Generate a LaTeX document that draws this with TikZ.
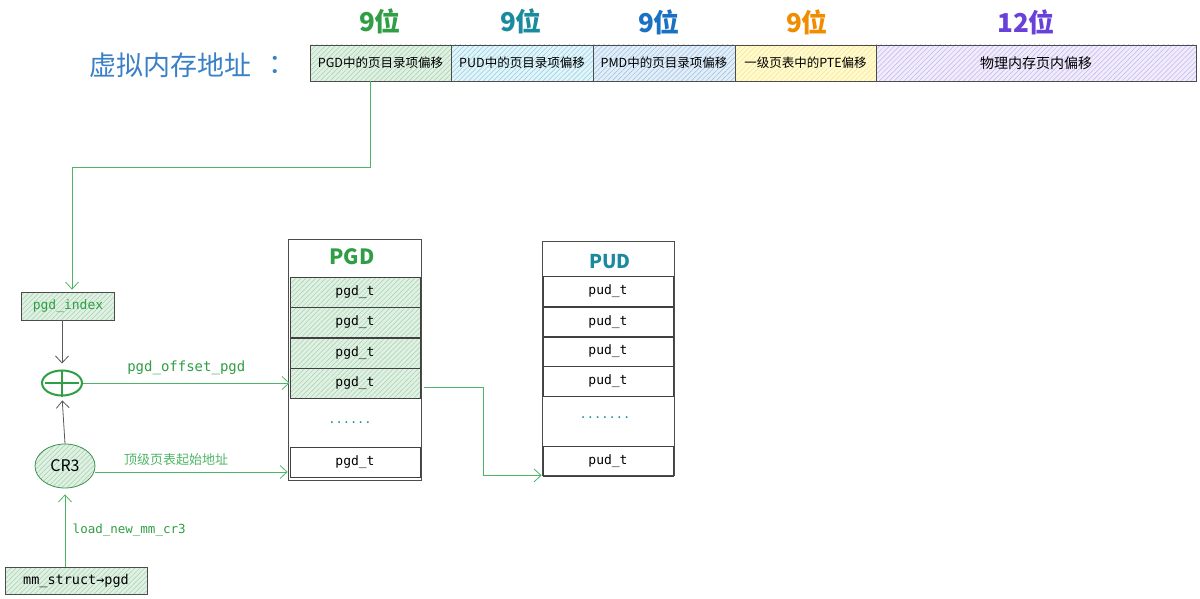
\documentclass[tikz,border=0pt]{standalone}
\usepackage{fontspec}
\setmainfont{Noto Sans CJK SC}
\setmonofont{DejaVu Sans Mono}
\usetikzlibrary{arrows.meta,patterns.meta,shapes.geometric}

\definecolor{grn}{HTML}{2F9E44}
\definecolor{lgrn}{HTML}{4DB565}
\definecolor{teal}{HTML}{1A8A9E}
\definecolor{blu}{HTML}{1971C2}
\definecolor{org}{HTML}{F08C00}
\definecolor{pur}{HTML}{6741D9}
\definecolor{vblue}{HTML}{3A80C6}

\tikzset{
  hatch/.style 2 args={preaction={fill=#1}, pattern={Lines[angle=45,distance=3.5pt,line width=0.5pt]}, pattern color=#2},
  field/.style={draw=black!70, line width=0.8pt, inner sep=0pt, minimum height=36, font=\fontsize{12.5}{14}\selectfont},
  cell/.style={draw=black!75, line width=0.8pt, inner sep=0pt, minimum width=130, minimum height=30, font=\ttfamily\fontsize{13}{15}\selectfont},
  bits/.style={font=\bfseries\fontsize{26}{30}\selectfont},
  garrow/.style={draw=lgrn, line width=0.8pt, -{Straight Barb[length=7pt,width=13pt]}},
  karrow/.style={draw=black!65, line width=0.8pt, -{Straight Barb[length=7pt,width=13pt]}},
}

\begin{document}
\begin{tikzpicture}[x=1pt, y=-1pt]
  \useasboundingbox (0,0) rectangle (1200,599);

  %% virtual address
  \node[anchor=west, text=vblue, font=\fontsize{27}{30}\selectfont] (va) at (86,65) {虚拟内存地址};
  \node[text=vblue, font=\fontsize{27}{30}\selectfont] (colon) at (282,65) {：};

  \node[field, minimum width=141, hatch={grn!15}{grn!45}] (f1) at (380.5,63) {PGD中的页目录项偏移};
  \node[field, minimum width=142, hatch={cyan!12}{teal!45}] (f2) at (522,63) {PUD中的页目录项偏移};
  \node[field, minimum width=142, hatch={blu!12}{blu!45}] (f3) at (664,63) {PMD中的页目录项偏移};
  \node[field, minimum width=141, hatch={yellow!22}{org!30}] (f4) at (805.5,63) {一级页表中的PTE偏移};
  \node[field, minimum width=320, hatch={pur!10}{pur!40}, font=\fontsize{14}{16}\selectfont] (f5) at (1036,63) {物理内存页内偏移};

  \node[bits, text=grn]  (b1) at (380,21) {9位};
  \node[bits, text=teal] (b2) at (521,21) {9位};
  \node[bits, text=blu]  (b3) at (659,22) {9位};
  \node[bits, text=org]  (b4) at (807,22) {9位};
  \node[bits, text=pur]  (b5) at (1026,22) {12位};

  %% left side
  \node[draw=black!70, line width=0.8pt, minimum width=93, minimum height=28, inner sep=0pt, hatch={grn!15}{grn!45}, text=grn, font=\ttfamily\fontsize{13}{15}\selectfont] (idx) at (68,306) {pgd\_index};
  \node[ellipse, draw=grn, line width=2pt, minimum width=40, minimum height=25, inner sep=0pt] (plus) at (62,383) {};
  \draw[grn, line width=2pt] (plus.north) -- (plus.south) ([xshift=4]plus.west) -- ([xshift=-4]plus.east);
  \node[ellipse, draw=lgrn!80!black, line width=0.8pt, minimum width=60, minimum height=44, inner sep=0pt, hatch={grn!15}{grn!45}, font=\fontsize{16}{18}\selectfont] (cr3) at (65,466) {CR3};
  \node[draw=black!70, line width=0.8pt, minimum width=142, minimum height=27, inner sep=0pt, hatch={grn!15}{grn!45}, font=\ttfamily\fontsize{13.5}{15}\selectfont] (mm) at (76,580.5) {mm\_struct→pgd};

  %% PGD table
  \node[draw=black!70, line width=0.8pt, minimum width=133, minimum height=241, inner sep=0pt] (pgd) at (354.5,359.5) {};
  \node[text=grn, font=\bfseries\fontsize{21}{24}\selectfont] (pgdt) at (352,257) {PGD};
  \node[cell, hatch={grn!15}{grn!45}] (g1) at (355,292) {pgd\_t};
  \node[cell, hatch={grn!15}{grn!45}] (g2) at (355,322) {pgd\_t};
  \node[cell, hatch={grn!15}{grn!45}] (g3) at (355,353) {pgd\_t};
  \node[cell, hatch={grn!15}{grn!45}] (g4) at (355,383) {pgd\_t};
  \node[text=teal, font=\ttfamily\fontsize{12}{14}\selectfont] (gd) at (350,423) {......};
  \node[cell] (g5) at (355,462) {pgd\_t};

  %% PUD table
  \node[draw=black!70, line width=0.8pt, minimum width=132, minimum height=234, inner sep=0pt] (pud) at (608,358) {};
  \node[text=teal, font=\bfseries\fontsize{19}{22}\selectfont] (pudt) at (610,262) {PUD};
  \node[cell] (u1) at (608,291.5) {pud\_t};
  \node[cell] (u2) at (608,322) {pud\_t};
  \node[cell] (u3) at (608,351.5) {pud\_t};
  \node[cell] (u4) at (608,381.5) {pud\_t};
  \node[text=teal, font=\ttfamily\fontsize{12}{14}\selectfont] (ud) at (605,418) {.......};
  \node[cell] (u5) at (608,461) {pud\_t};

  %% connectors
  \coordinate (k1) at (370,167);
  \coordinate (k2) at (72,167);
  \coordinate (k3) at (483,0);
  \draw[garrow] (f1.south -| k1) -- (k1) -- (k2) -- ([yshift=2]k2 |- idx.north); %% field -> index
  \draw[karrow, shorten >=6pt] (idx.south -| plus) -- (plus.north);
  \draw[karrow, shorten >=4pt] (cr3.north) -- (plus.south);
  \draw[garrow] (plus.east) -- node[above=4pt, text=grn, font=\ttfamily\fontsize{14}{16}\selectfont]{pgd\_offset\_pgd} (g4.west);
  \draw[garrow] ([yshift=-6]cr3.east) -- node[pos=0.42, above=3pt, text=lgrn, font=\fontsize{13}{15}\selectfont]{顶级页表起始地址} ([yshift=-6]cr3.east -| pgd.west); %% CR3 -> PGD base
  \draw[garrow] (mm.north -| cr3) -- node[right=4pt, text=grn, font=\ttfamily\fontsize{12.5}{14}\selectfont]{load\_new\_mm\_cr3} ([yshift=-6]cr3.south);
  \draw[garrow] ([xshift=4,yshift=-4]g4.east) -| (k3 |- pud.south) -- (pud.south west); %% PGD -> PUD
\end{tikzpicture}
\end{document}
